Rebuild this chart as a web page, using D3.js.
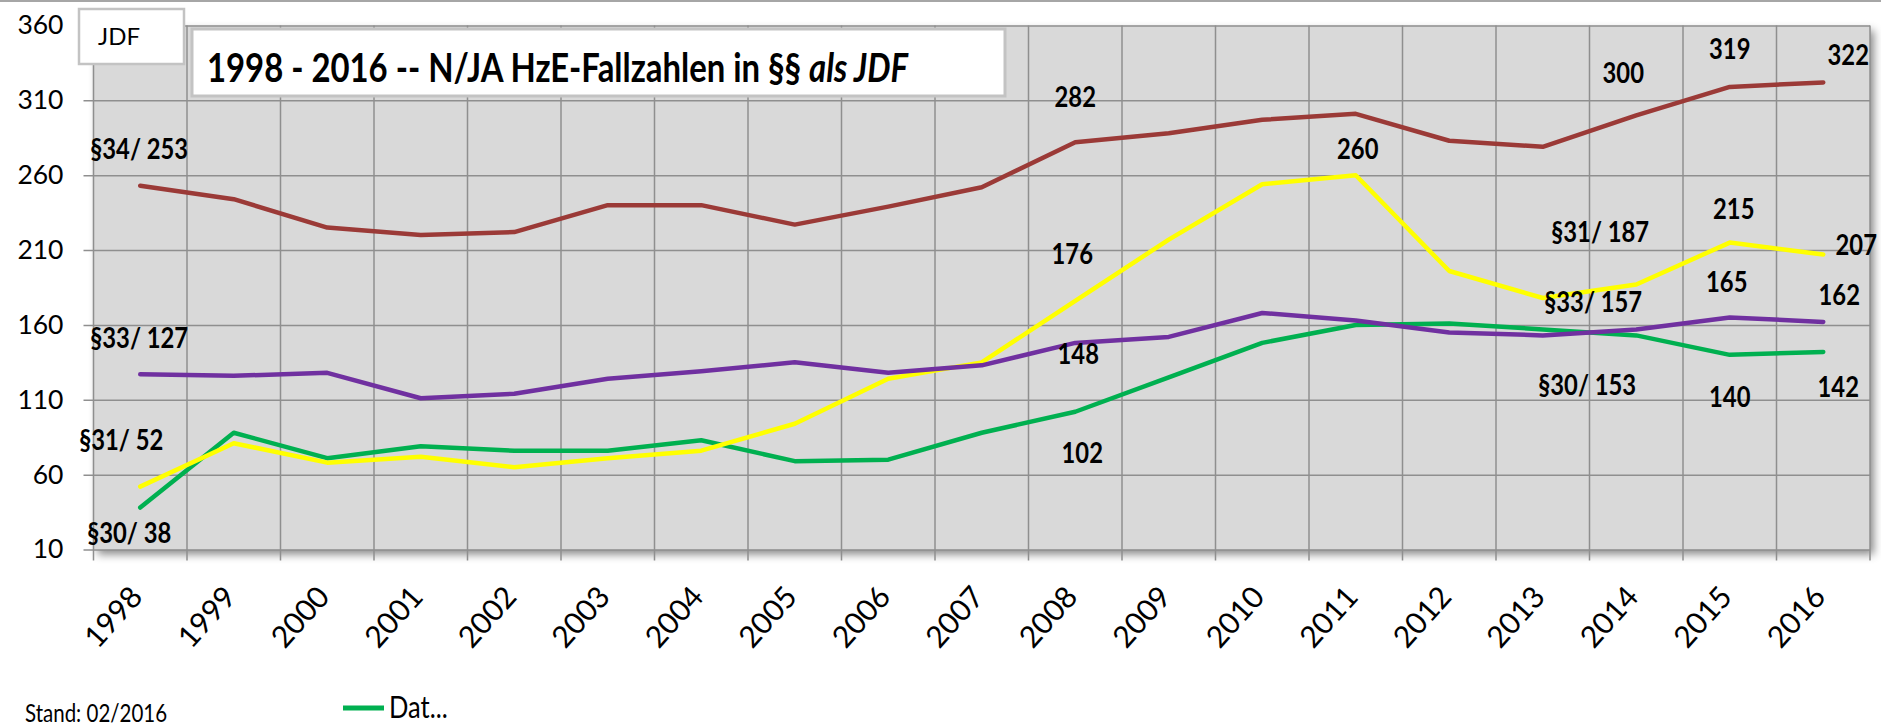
<!DOCTYPE html>
<html>
  <head>
    <meta charset="utf-8">
    <script src="https://cdn.jsdelivr.net/npm/d3@7/dist/d3.min.js"></script>
    <style>
      body { margin: 0; background: #fff; }
      svg text { font-family: Lato, "Open Sans", sans-serif; fill: #000; }
    </style>
  </head>
  <body>
    <svg width="1881" height="725"></svg>
    <script>
      // values
      const years = [1998, 1999, 2000, 2001, 2002, 2003, 2004, 2005, 2006, 2007,
                     2008, 2009, 2010, 2011, 2012, 2013, 2014, 2015, 2016];
      const p34 = [253, 244, 225, 220, 222, 240, 240, 227, 239, 252, 282, 288, 297, 301, 283, 279, 300, 319, 322];
      const p33 = [127, 126, 128, 111, 114, 124, 129, 135, 128, 133, 148, 152, 168, 163, 155, 153, 157, 165, 162];
      const p31 = [52, 81, 68, 72, 65, 71, 76, 94, 124, 135, 176, 217, 254, 260, 196, 178, 187, 215, 207];
      const p30 = [38, 88, 71, 79, 76, 76, 83, 69, 70, 88, 102, 125, 148, 160, 161, 157, 153, 140, 142];
      const yTicks = [10, 60, 110, 160, 210, 260, 310, 360];

      const titleMain = "1998 - 2016 -- N/JA HzE-Fallzahlen in §§ ";
      const titleItalic = "als JDF";
      const unitLabel = "JDF";
      const footnote = "Stand: 02/2016";
      const legendText = "Dat...";

      // which points carry a value label: [series, year, with paragraph prefix]
      const labelled = [
        ["§34", 1998, true], ["§33", 1998, true], ["§31", 1998, true], ["§30", 1998, true],
        ["§34", 2008, false], ["§31", 2008, false], ["§33", 2008, false], ["§30", 2008, false],
        ["§31", 2011, false],
        ["§34", 2014, false], ["§34", 2015, false], ["§34", 2016, false],
        ["§31", 2014, true], ["§31", 2015, false], ["§31", 2016, false],
        ["§33", 2014, true], ["§33", 2015, false], ["§33", 2016, false],
        ["§30", 2014, true], ["§30", 2015, false], ["§30", 2016, false]
      ];
      // label offsets from their point (px)
      const labelShift = [
        [-1, -27], [-1, -26], [-19, -37], [-11, 35],
        [0, -35], [-3, -37], [3, 21], [7, 51],
        [2, -16],
        [-13, -32], [0, -28], [25, -17],
        [-36, -43], [4, -24], [33, 0],
        [-43, -17], [-3, -25], [16, -17],
        [-49, 60], [0, 52], [15, 45]
      ];

      const series = [
        {code: "§30", values: p30, color: "#00b050"},
        {code: "§31", values: p31, color: "#ffff00"},
        {code: "§34", values: p34, color: "#9b3a37"},
        {code: "§33", values: p33, color: "#7030a0"}
      ];

      const svg = d3.select("svg");
      const plotL = 93.5, plotR = 1870, plotT = 25.5, plotB = 549.5;

      const x = d3.scaleBand().domain(years).range([plotL, plotR]).paddingInner(0);
      const bw = x.bandwidth();
      const cx = d => x(d) + bw / 2;
      const y = d3.scaleLinear().domain([10, 360]).range([plotB, plotT]);

      // helper for narrowed text
      function txt(g, px, py, s, size, weight, k, anchor) {
        return g.append("text")
          .attr("transform", `translate(${px},${py}) scale(${k},1)`)
          .attr("text-anchor", anchor)
          .style("font-size", size + "px")
          .style("font-weight", weight)
          .text(s);
      }

      // top border of the chart area
      svg.append("line").attr("x1", 0).attr("x2", 1881).attr("y1", 1).attr("y2", 1)
        .attr("stroke", "#a6a6a6").attr("stroke-width", 2);

      const defs = svg.append("defs");
      const f = defs.append("filter").attr("id", "shadow")
        .attr("x", "-2%").attr("y", "-2%").attr("width", "104%").attr("height", "106%");
      f.append("feDropShadow").attr("dx", 4).attr("dy", 5).attr("stdDeviation", 4)
        .attr("flood-color", "#000").attr("flood-opacity", 0.45);

      svg.append("rect")
        .attr("x", plotL).attr("y", plotT)
        .attr("width", plotR - plotL).attr("height", plotB - plotT)
        .attr("fill", "#d9d9d9")
        .attr("filter", "url(#shadow)");

      // horizontal grid + y labels
      const yAxis = svg.append("g")
        .attr("transform", `translate(${plotR},0)`)
        .call(d3.axisLeft(y).tickValues(yTicks).tickSize(plotR - plotL + 10).tickPadding(20));
      yAxis.select(".domain").remove();
      yAxis.selectAll("line").attr("stroke", "#8f8f8f").attr("stroke-width", 1.5);
      yAxis.selectAll("text")
        .style("font-family", "Lato, 'Open Sans', sans-serif")
        .style("font-size", "26.5px")
        .attr("fill", "#000");

      // vertical grid at band edges
      const edges = years.map(d => x(d)).concat([plotR]);
      svg.append("g").selectAll("line").data(edges).join("line")
        .attr("x1", d => d).attr("x2", d => d)
        .attr("y1", plotT).attr("y2", plotB + 11)
        .attr("stroke", "#8f8f8f").attr("stroke-width", 1.5);

      // x labels
      svg.append("g").selectAll("text").data(years).join("text")
        .attr("transform", d => `translate(${cx(d) + 4},598) rotate(-48)`)
        .attr("text-anchor", "end")
        .style("font-size", "30px")
        .text(d => d);

      // lines
      const line = d3.line().x((d, i) => cx(years[i])).y(d => y(d));
      svg.append("g").selectAll("path").data(series).join("path")
        .attr("d", d => line(d.values))
        .attr("fill", "none")
        .attr("stroke", d => d.color)
        .attr("stroke-width", 4.5)
        .attr("stroke-linejoin", "round")
        .attr("stroke-linecap", "round");

      // value labels
      const lg = svg.append("g");
      labelled.forEach(([code, yr, pref], i) => {
        const s = series.find(e => e.code === code);
        const v = s.values[years.indexOf(yr)];
        const [dx, dy] = labelShift[i];
        txt(lg, cx(yr) + dx, y(v) + dy, (pref ? code + "/ " : "") + v, 28, "bold", 0.85, "middle");
      });

      // unit box
      svg.append("rect").attr("x", 79).attr("y", 9).attr("width", 105).attr("height", 55)
        .attr("fill", "#fff").attr("stroke", "#c3c3c3").attr("stroke-width", 2.5);
      txt(svg, 98, 45, unitLabel, 24, "normal", 1, "start");

      // title box
      svg.append("rect").attr("x", 192).attr("y", 29).attr("width", 813).attr("height", 67)
        .attr("fill", "#fff").attr("stroke", "#c3c3c3").attr("stroke-width", 3);
      const t = svg.append("text")
        .attr("x", 207).attr("y", 81.5)
        .attr("textLength", 701).attr("lengthAdjust", "spacingAndGlyphs")
        .style("font-size", "39.5px").style("font-weight", "bold");
      t.append("tspan").text(titleMain);
      t.append("tspan").style("font-style", "italic").text(titleItalic);

      // footer
      txt(svg, 25, 722, footnote, 25, "normal", 0.82, "start");
      svg.append("line").attr("x1", 343).attr("x2", 384).attr("y1", 708).attr("y2", 708)
        .attr("stroke", "#00b050").attr("stroke-width", 5);
      txt(svg, 389, 718, legendText, 30, "normal", 0.85, "start");
    </script>
  </body>
</html>
